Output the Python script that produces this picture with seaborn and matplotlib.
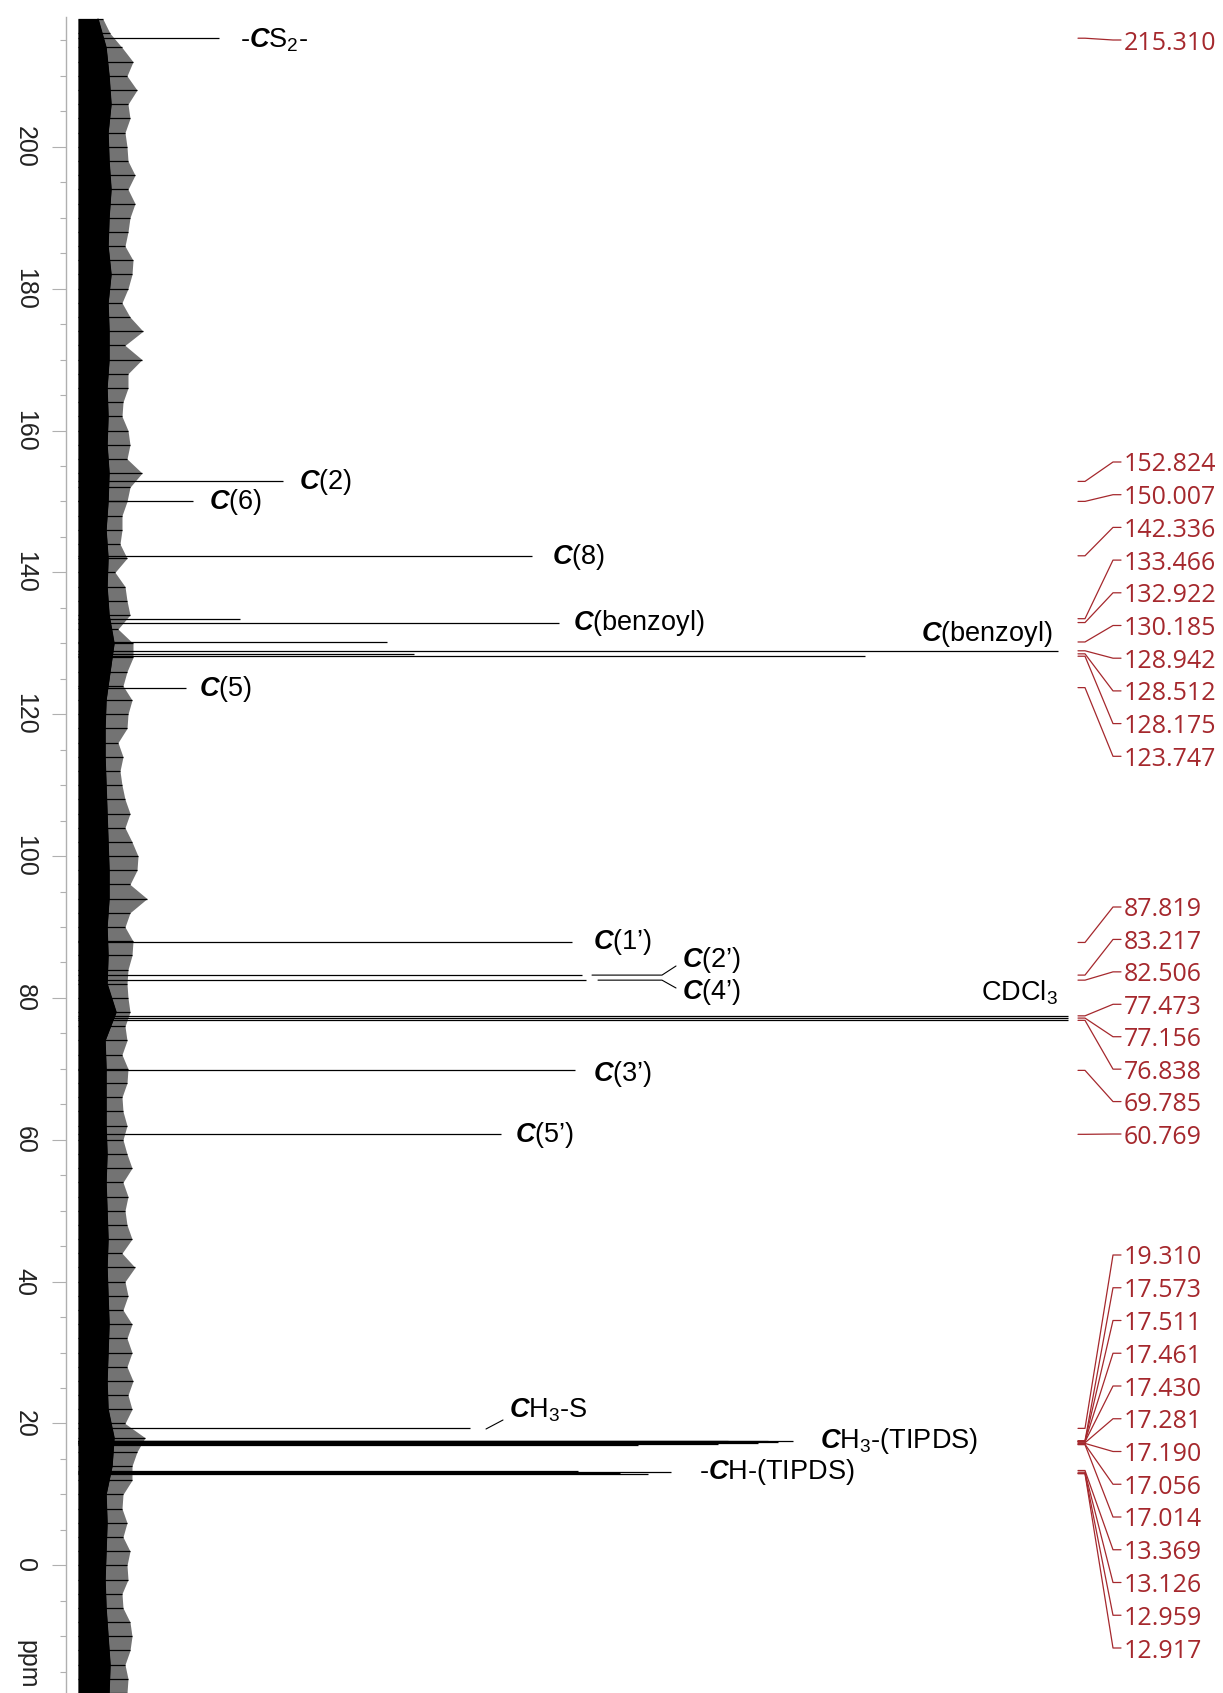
import numpy as np
import matplotlib
matplotlib.use("Agg")
import matplotlib.pyplot as plt
from matplotlib.ticker import MultipleLocator
import seaborn as sns

# 13C NMR (CDCl3) - peak list
peak_ppm = [215.310,
            152.824, 150.007, 142.336, 133.466, 132.922, 130.185, 128.942, 128.512, 128.175, 123.747,
            87.819, 83.217, 82.506, 77.473, 77.156, 76.838, 69.785, 60.769,
            19.310, 17.573, 17.511, 17.461, 17.430, 17.281, 17.190, 17.056, 17.014,
            13.369, 13.126, 12.959, 12.917]
peak_height = [141,
               205, 115, 454, 162, 481, 309, 980, 336, 787, 108,
               494, 504, 508, 990, 990, 990, 497, 423,
               392, 690, 715, 650, 700, 600, 680, 640, 560,
               500, 593, 542, 570]

# baseline noise: spike tips every 2 ppm (218 -> -18), dense core every 4 ppm
noise_tip = [25, 32, 44, 55, 49, 59, 50, 52, 47, 49, 50, 57, 50, 57, 52, 50, 47, 55, 54, 50,
             44, 52, 65, 47, 64, 50, 50, 45, 44, 50, 52, 49, 64, 52, 49, 44, 44, 42, 49,
             37, 47, 49, 52, 40, 55, 55, 49, 45, 54, 50, 49, 40, 45, 42, 44, 47, 52, 47, 54,
             60, 59, 52, 69, 52, 47, 55, 54, 50, 49, 50, 52, 47, 49, 44, 50, 49, 44, 45, 49,
             45, 49, 54, 45, 50, 47, 49, 54, 44, 57, 47, 50, 45, 54, 49, 54, 49, 55, 50, 54,
             47, 67, 59, 54, 54, 45, 44, 49, 45, 52, 49, 50, 44, 45, 52, 54, 52, 47, 50, 49]
noise_core = [20, 28, 31, 33, 30, 31, 33, 31, 30, 33, 30, 31, 31, 29, 30, 29, 31, 30, 28, 30,
              29, 31, 36, 32, 28, 27, 27, 28, 29, 30, 31, 31, 29, 30, 29, 38, 27, 28, 28, 28,
              29, 28, 29, 30, 29, 30, 31, 30, 29, 30, 36, 34, 28, 29, 28, 27, 28, 30, 32, 31]
tip_ppm = np.arange(218, -19, -2)
core_ppm = np.arange(218, -19, -4)

# peak assignments: (label, x px, y px, ha)
labels = [
    ("-$\\mathbfit{C}$S$_\\mathrm{2}$-", 240, 40, "left"),
    ("$\\mathbfit{C}$(2)", 299, 482, "left"),
    ("$\\mathbfit{C}$(6)", 209, 502, "left"),
    ("$\\mathbfit{C}$(8)", 552, 557, "left"),
    ("$\\mathbfit{C}$(benzoyl)", 573, 623, "left"),
    ("$\\mathbfit{C}$(benzoyl)", 1052, 634, "right"),
    ("$\\mathbfit{C}$(5)", 199, 689, "left"),
    ("$\\mathbfit{C}$(1\u2019)", 593, 942, "left"),
    ("$\\mathbfit{C}$(2\u2019)", 682, 960, "left"),
    ("$\\mathbfit{C}$(4\u2019)", 682, 992, "left"),
    ("CDCl$_\\mathrm{3}$", 1058, 993, "right"),
    ("$\\mathbfit{C}$(3\u2019)", 593, 1074, "left"),
    ("$\\mathbfit{C}$(5\u2019)", 515, 1135, "left"),
    ("$\\mathbfit{C}$H$_\\mathrm{3}$-S", 509, 1410, "left"),
    ("$\\mathbfit{C}$H$_\\mathrm{3}$-(TIPDS)", 820, 1441, "left"),
    ("-$\\mathbfit{C}$H-(TIPDS)", 699, 1472, "left"),
]

sns.set_style("ticks")
plt.rcParams["font.family"] = ["Liberation Sans", "DejaVu Sans"]
plt.rcParams["mathtext.fontset"] = "custom"
plt.rcParams["mathtext.rm"] = "Liberation Sans"
plt.rcParams["mathtext.it"] = "Liberation Sans:italic"
plt.rcParams["mathtext.bf"] = "Liberation Sans:bold"
plt.rcParams["mathtext.bfit"] = "Liberation Sans:bold:italic"

W, H = 1223, 1693
top_px, left_px, base_px = 17, 66, 78
y_top, y_bot = 218.3, -18.0

fig = plt.figure(figsize=(W / 100, H / 100), dpi=100)
ax = fig.add_axes([left_px / W, 0, 1 - left_px / W, 1 - top_px / H])
ax.patch.set_alpha(0)


def ppm_at(ypx):
    return y_top - (ypx - top_px) * (y_top - y_bot) / (H - top_px)


def xd(xpx):
    return xpx - base_px


# noise band
ax.fill_betweenx(tip_ppm, 0, noise_tip, color="black", alpha=0.55, lw=0)
ax.fill_betweenx(core_ppm, 0, noise_core, color="black", lw=0)
ax.hlines(tip_ppm, 0, noise_tip, color="black", lw=0.9)
sns.lineplot(x=noise_core, y=core_ppm, orient="y", sort=False, estimator=None,
             color="black", lw=1, ax=ax)

# peaks
ax.hlines(peak_ppm, 0, peak_height, color="black", lw=0.9)

# assignment labels + small leaders
for txt, xp, yp, ha in labels:
    ax.text(xd(xp), ppm_at(yp), txt, fontsize=19.5, ha=ha, va="center", color="black")
lead_kw = dict(color="black", lw=0.8)
ax.plot([xd(592), xd(662), xd(676)], [83.217, 83.217, ppm_at(966)], **lead_kw)
ax.plot([xd(598), xd(662), xd(676)], [82.506, 82.506, ppm_at(988)], **lead_kw)
ax.plot([xd(486), xd(503)], [ppm_at(1429), ppm_at(1420)], **lead_kw)

# peak-pick list on the right
red = "#a5282d"
groups = [(40.0, 0.0, peak_ppm[:1]), (462.0, 32.7, peak_ppm[1:11]),
          (907.0, 32.43, peak_ppm[11:19]), (1255.0, 32.75, peak_ppm[19:])]
for y0, dy, ppms in groups:
    for i, p in enumerate(ppms):
        ly = ppm_at(y0 + i * dy)
        ax.plot([xd(1078), xd(1085), xd(1113), xd(1121)], [p, p, ly, ly],
                color=red, lw=0.9, clip_on=False)
        ax.text(xd(1124), ly, f"{p:.3f}", color=red, fontsize=18,
                family="Open Sans", ha="left", va="center_baseline")

ax.set_xlim(xd(left_px), xd(W))
ax.set_ylim(y_bot, y_top)
ax.set_xticks([])
ax.yaxis.set_major_locator(MultipleLocator(20))
ax.yaxis.set_minor_locator(MultipleLocator(5))
ax.tick_params(axis="y", which="major", length=10, width=0.8, color="#b0b0b0",
               labelsize=18, labelcolor="#222222", pad=11, labelrotation=-90)
ax.tick_params(axis="y", which="minor", length=4.3, width=0.8, color="#b0b0b0")
for lab in ax.get_yticklabels():
    lab.set_va("center")
for s in ["top", "right", "bottom"]:
    ax.spines[s].set_visible(False)
ax.spines["left"].set_color("#b0b0b0")
ax.spines["left"].set_linewidth(1)
ax.set_ylabel("")
ax.set_xlabel("")

fig.text(39 / W, 1 - 1640 / H, "ppm", rotation=-90, fontsize=18, color="#222222",
         ha="right", va="top")

fig.savefig("out.png", dpi=100)
